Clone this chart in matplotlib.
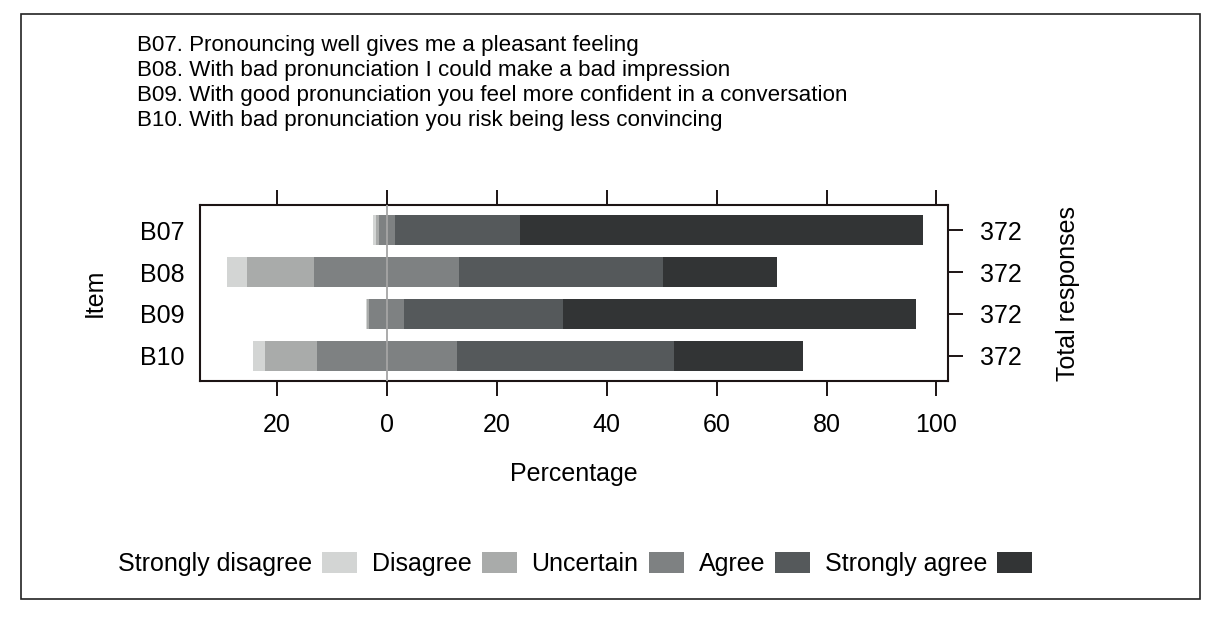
import matplotlib
matplotlib.use("Agg")
import matplotlib.pyplot as plt
from matplotlib.patches import Rectangle, Patch
import numpy as np

plt.rcParams['font.family'] = ['Liberation Sans', 'DejaVu Sans']

items = ["B07", "B08", "B09", "B10"]
questions = [
    "B07. Pronouncing well gives me a pleasant feeling",
    "B08. With bad pronunciation I could make a bad impression",
    "B09. With good pronunciation you feel more confident in a conversation",
    "B10. With bad pronunciation you risk being less convincing",
]
totals = [372, 372, 372, 372]
levels = ["Strongly disagree", "Disagree", "Uncertain", "Agree", "Strongly agree"]
strongly_disagree = [0.4, 3.6, 0.2, 2.1]
disagree = [0.6, 12.2, 0.4, 9.5]
uncertain = [2.9, 26.4, 6.4, 25.4]
agree = [22.8, 37.0, 28.9, 39.6]
strongly_agree = [73.3, 20.8, 64.1, 23.4]

colors = ["#d3d5d4", "#a9abaa", "#7e8182", "#55595b", "#323435"]
frame = "#1c1414"

W, H = 1219, 633
fig = plt.figure(figsize=(W / 100, H / 100), dpi=100)

# outer border
fig.patches.append(Rectangle((21 / W, 1 - 599 / H), (1200 - 21) / W, (599 - 14) / H,
                             transform=fig.transFigure, fill=False,
                             edgecolor="#222222", linewidth=1.2))

ax = fig.add_axes([200 / W, 1 - 381 / H, 748 / W, 176 / H])

vals = np.array([strongly_disagree, disagree, uncertain, agree, strongly_agree])
left = -(vals[0] + vals[1] + vals[2] / 2)
y = np.arange(len(items))
for i in range(len(levels)):
    ax.barh(y, vals[i], left=left, height=0.72, color=colors[i],
            edgecolor="none", zorder=2)
    left = left + vals[i]

ax.axvline(0, color="#a5a5a5", linewidth=1.3, zorder=3)

ax.set_xlim(-34, 102.1)
ax.set_ylim(len(items) - 0.4, -0.6)
xt = np.arange(-20, 101, 20)
ax.set_xticks(xt)
ax.set_xticklabels([str(abs(v)) for v in xt])
ax.set_yticks(y)
ax.set_yticklabels(items)
ax.tick_params(axis="x", which="both", top=True, direction="out", length=11,
               width=1.4, color=frame, labelsize=18, pad=12)
ax.tick_params(axis="y", length=0, labelsize=18, pad=11)
for s in ax.spines.values():
    s.set_color(frame)
    s.set_linewidth(1.5)

ax2 = ax.twinx()
ax2.set_ylim(ax.get_ylim())
ax2.set_yticks(y)
ax2.set_yticklabels([str(t) for t in totals])
ax2.tick_params(axis="y", direction="out", length=11, width=1.4, color=frame,
                labelsize=18, pad=12)
for s in ax2.spines.values():
    s.set_visible(False)

ax.set_xlabel("Percentage", fontsize=18, labelpad=18)
fig.text(95 / W, 1 - 293 / H, "Item", rotation=90, fontsize=18,
         ha="center", va="center")
fig.text(1068 / W, 1 - 293 / H, "Total responses", rotation=90, fontsize=18,
         ha="center", va="center")

for k, q in enumerate(questions):
    fig.text(137 / W, 1 - (45 + 25.3 * k) / H, q, fontsize=16.1,
             ha="left", va="center")

handles = [Patch(facecolor=c, edgecolor="none") for c in colors]
fig.legend(handles, levels, loc="center", bbox_to_anchor=(575 / W, 1 - 564 / H),
           ncol=5, frameon=False, markerfirst=False, fontsize=18,
           handlelength=1.4, handleheight=0.95, handletextpad=0.4,
           columnspacing=0.6)

fig.savefig("out.png", dpi=100)
